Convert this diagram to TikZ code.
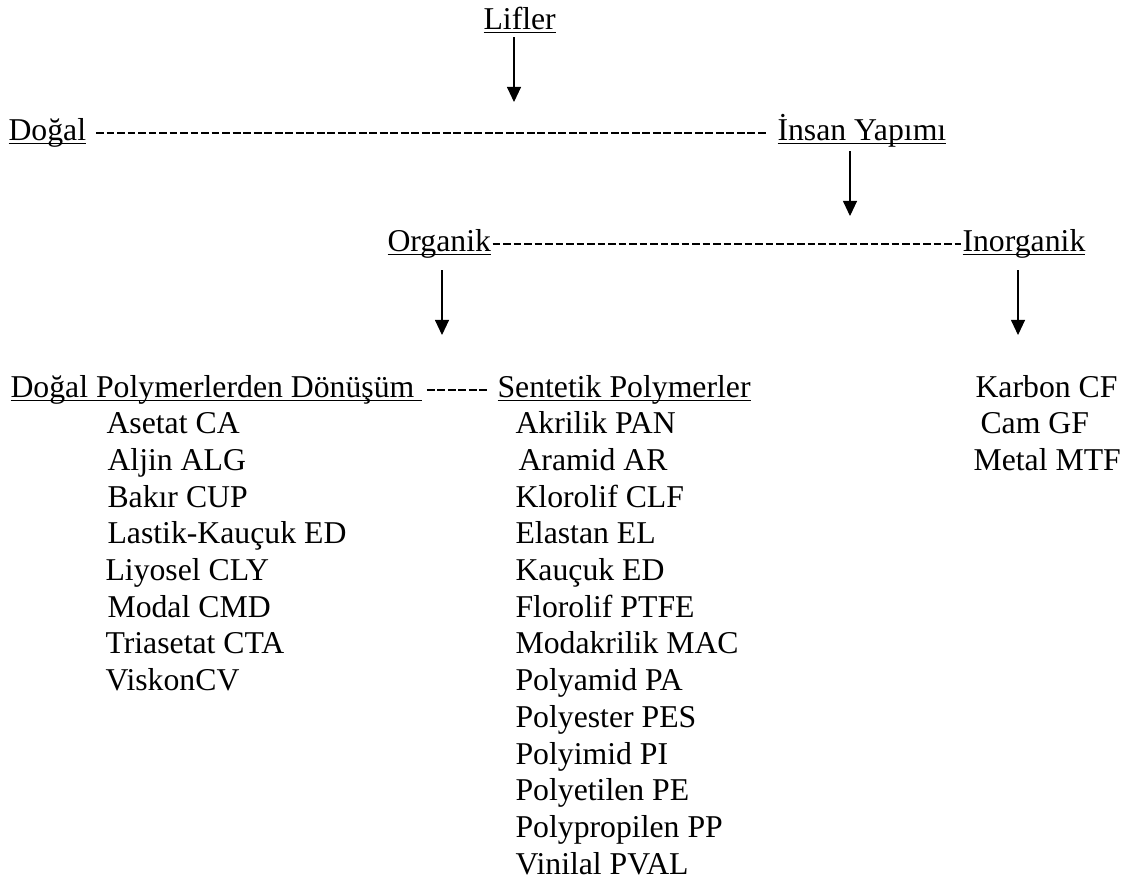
\documentclass[tikz,border=0pt]{standalone}
\usepackage{fontspec}
\setmainfont{Liberation Serif}
\usetikzlibrary{arrows.meta, calc}

\newsavebox{\ulbox}
\newcommand{\ulined}[1]{\sbox{\ulbox}{#1}\rlap{\rule[-1.5pt]{\wd\ulbox}{0.55pt}}\usebox{\ulbox}}

\begin{document}
\begin{tikzpicture}[x=0.378pt, y=-0.378pt,
    head/.style={anchor=base west, inner sep=0pt, font=\fontsize{12}{14}\selectfont},
    fiber/.style={anchor=base west, inner sep=0pt, font=\fontsize{12}{14}\selectfont},
    arrow/.style={-{Triangle[length=5.7pt, width=5.3pt]}, line width=0.4pt},
    hyphens/.style={line width=0.7pt, dash pattern=on 2.95pt off 1.02pt}
]
\useasboundingbox (0,0) rectangle (1124,882);

\node[head] (lifler) at (483,29) {\ulined{Lifler}};
\node[head] (dogal) at (8,140) {\ulined{Doğal}};
\node[head] (insan) at (777,140) {\ulined{İnsan Yapımı}};
\node[head] (organik) at (387,251) {\ulined{Organik}};
\node[head] (inorganik) at (962,251) {\ulined{Inorganik}};
\node[head] (donusum) at (10,397) {\ulined{Doğal Polymerlerden Dönüşüm\ }};
\node[head] (sentetik) at (497,397) {\ulined{Sentetik Polymerler}};

% natural polymer based
\node[fiber] (asetat) at (106,433.7) {Asetat CA};
\node[fiber] (aljin) at (107,470.4) {Aljin ALG};
\node[fiber] (bakir) at (107,507.1) {Bakır CUP};
\node[fiber] (lastik) at (107,543.8) {Lastik-Kauçuk ED};
\node[fiber] (liyosel) at (105,580.5) {Liyosel CLY};
\node[fiber] (modal) at (107,617.2) {Modal CMD};
\node[fiber] (triasetat) at (105,653.9) {Triasetat CTA};
\node[fiber] (viskon) at (105,690.6) {ViskonCV};

% synthetic
\node[fiber] (akrilik) at (515,433.7) {Akrilik PAN};
\node[fiber] (aramid) at (518,470.4) {Aramid AR};
\node[fiber] (klorolif) at (515,507.1) {Klorolif CLF};
\node[fiber] (elastan) at (515,543.8) {Elastan EL};
\node[fiber] (kaucuk) at (515,580.5) {Kauçuk ED};
\node[fiber] (florolif) at (515,617.2) {Florolif PTFE};
\node[fiber] (modakrilik) at (515,653.9) {Modakrilik MAC};
\node[fiber] (polyamid) at (515,690.6) {Polyamid PA};
\node[fiber] (polyester) at (515,727.3) {Polyester PES};
\node[fiber] (polyimid) at (515,764.0) {Polyimid PI};
\node[fiber] (polyetilen) at (515,800.7) {Polyetilen PE};
\node[fiber] (polypropilen) at (515,837.4) {Polypropilen PP};
\node[fiber] (vinilal) at (515,874.1) {Vinilal PVAL};

% inorganic
\node[fiber] (karbon) at (975,397) {Karbon CF};
\node[fiber] (cam) at (980,433.7) {Cam GF};
\node[fiber] (metal) at (973,470.4) {Metal MTF};

\draw[hyphens, shorten <=3.6pt, shorten >=4.2pt] ([yshift=2.7pt]dogal.base east) -- ([yshift=2.7pt]insan.base west);
\draw[hyphens, shorten <=0.4pt, shorten >=0.4pt] ([yshift=2.7pt]organik.base east) -- ([yshift=2.7pt]inorganik.base west);
\draw[hyphens, shorten <=1.5pt, shorten >=3.8pt] ([yshift=2.7pt]donusum.base east) -- ([yshift=2.7pt]sentetik.base west);

\coordinate (liflerTip) at (514,102);
\coordinate (insanTip) at (850,216);
\coordinate (organikTip) at (442,335);
\coordinate (inorganikTip) at (1018,335);

\draw[arrow] (liflerTip |- lifler.base) ++(0,8) -- (liflerTip);
\draw[arrow] (insanTip |- insan.base) ++(0,11) -- (insanTip);
\draw[arrow] (organikTip |- organik.base) ++(0,19) -- (organikTip);
\draw[arrow] (inorganikTip |- inorganik.base) ++(0,19) -- (inorganikTip);
\end{tikzpicture}
\end{document}
